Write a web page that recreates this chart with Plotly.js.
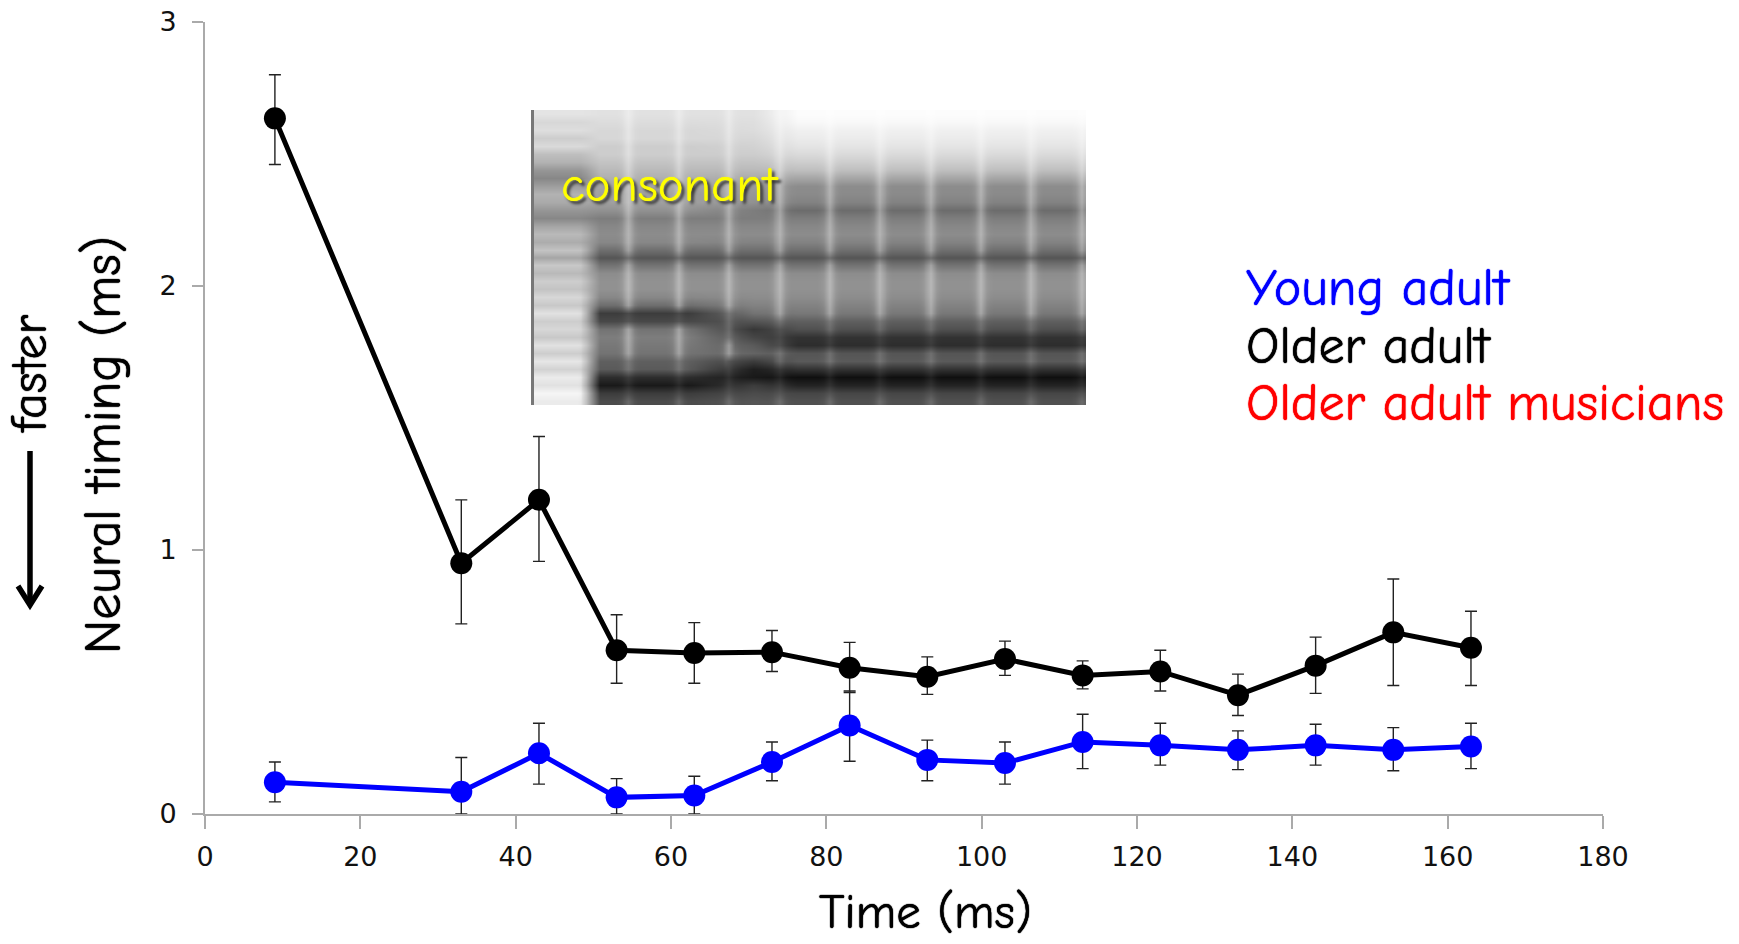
<!DOCTYPE html>
<html><head><meta charset="utf-8">
<script src="https://cdn.plot.ly/plotly-3.0.1.min.js"></script>
<style>html,body{margin:0;padding:0;background:#fff;overflow:hidden}#chart{width:1739px;height:944px}</style>
</head><body><div id="chart"></div>
<script>
// --- chart data ---
const timeMs = [9,33,43,53,63,73,83,93,103,113,123,133,143,153,163];
const olderAdult = [2.635,0.95,1.19,0.62,0.61,0.613,0.554,0.52,0.587,0.525,0.54,0.45,0.562,0.688,0.63];
const olderUpper = [2.80,1.19,1.43,0.755,0.725,0.695,0.65,0.595,0.655,0.58,0.62,0.53,0.67,0.89,0.768];
const olderLower = [2.46,0.72,0.957,0.495,0.495,0.54,0.46,0.453,0.525,0.474,0.466,0.373,0.457,0.487,0.487];
const youngAdult = [0.12,0.084,0.23,0.063,0.07,0.197,0.335,0.205,0.193,0.273,0.26,0.243,0.26,0.243,0.256];
const youngUpper = [0.197,0.214,0.344,0.134,0.143,0.273,0.466,0.28,0.273,0.378,0.344,0.315,0.34,0.327,0.344];
const youngLower = [0.046,0,0.113,0,0,0.126,0.2,0.126,0.113,0.172,0.185,0.168,0.185,0.164,0.172];
const xTicks = [0,20,40,60,80,100,120,140,160,180];
const yTicks = [0,1,2,3];
const legendLabels = ['Young adult','Older adult','Older adult musicians'];
const legendColors = ['#0000ff','#000000','#ff0000'];

// --- spectrogram inset: grey level per frequency row, top to bottom, per stimulus stage ---
const onsetRows = [228,215,222,205,218,190,178,150,135,158,178,170,150,135,165,185,172,195,165,200,185,205,195,215,200,225,205,215,200,225,205,230,210,235,225,245,235];
const earlyRows = [225,220,215,215,205,205,195,185,175,165,160,160,145,125,135,140,135,110,85,115,140,145,145,135,110,60,72,115,125,120,115,95,90,45,25,60,75];
const midRows   = [225,222,220,215,210,205,195,185,170,155,150,145,125,125,135,140,130,110,85,115,140,145,145,140,130,115,85,55,70,90,100,60,30,25,60,75,85];
const lateRows  = [252,248,240,235,228,218,205,190,165,140,138,130,108,125,135,140,130,110,85,115,140,145,145,140,130,120,95,80,50,45,85,90,50,15,35,70,80];
// stage anchors across the image (fraction of its width), and stripe strength within one pitch period
const stageStops = [0.085,0.12,0.28,0.40,0.48];
const stripeCycle = [0.7,0.42,0.14,0.04,0,0,0,0,0,0,0,0,0,0.04,0.14,0.42];
const stripeFirstColumn = 30;
const rowCount = onsetRows.length;
const columnCount = 176;

const mix = (a, b, t) => a + (b - a) * Math.min(1, Math.max(0, t));
const spectrogram = [];
for (let r = 0; r < rowCount; r++) {
  const row = [];
  for (let c = 0; c < columnCount; c++) {
    const f = c / (columnCount - 1);
    let level;
    if (f < stageStops[1]) level = mix(onsetRows[r], earlyRows[r], (f - stageStops[0]) / (stageStops[1] - stageStops[0]));
    else if (f < stageStops[2]) level = earlyRows[r];
    else if (f < stageStops[3]) level = mix(earlyRows[r], midRows[r], (f - stageStops[2]) / (stageStops[3] - stageStops[2]));
    else level = mix(midRows[r], lateRows[r], (f - stageStops[3]) / (stageStops[4] - stageStops[3]));
    const phase = ((c - stripeFirstColumn) % 16 + 16) % 16;
    const strength = f < stageStops[1] ? 0 : stripeCycle[phase] * (level < 75 ? 0.1 : level < 100 ? 0.22 : 0.5);
    row.push(level + (255 - level) * strength);
  }
  spectrogram.push(row);
}
spectrogram.reverse();

const FONT = '"Comic Sans MS","Comic Neue",Lato,"Noto Sans",sans-serif';
const TICK = 'Verdana,"DejaVu Sans",sans-serif';
const W = 1739, H = 944, L = 205, T = 22, PW = 1398, PH = 792;
const px = v => (v - L) / PW;
const py = v => 1 - (v - T) / PH;

function errTrace(name, y, up, lo, color) {
  return {
    type: 'scatter', mode: 'lines+markers', name, x: timeMs, y,
    line: {color, width: 5}, marker: {color, size: 22},
    error_y: {type: 'data', symmetric: false,
      array: up.map((v, i) => +(v - y[i]).toFixed(3)),
      arrayminus: lo.map((v, i) => +(y[i] - v).toFixed(3)),
      color: '#222', thickness: 1.4, width: 6},
    cliponaxis: false, hoverinfo: 'x+y'
  };
}

const data = [
  {type: 'heatmap', z: spectrogram, xaxis: 'x2', yaxis: 'y2', zmin: 0, zmax: 255, zsmooth: 'best',
   colorscale: [[0,'#000000'],[1,'#ffffff']], showscale: false, hoverinfo: 'skip'},
  errTrace('Older adult', olderAdult, olderUpper, olderLower, '#000000'),
  errTrace('Young adult', youngAdult, youngUpper, youngLower, '#0000ff')
];

const weight = c => `0 0 1px ${c}, 0 0 1px ${c}`;
const annotations = [
  {text: 'Time (ms)', x: px(926), y: py(912), font: {size: 49, color: '#000', family: FONT, shadow: weight('#000')}},
  {text: 'Neural timing (ms)', x: px(103), y: py(445), textangle: -90, font: {size: 52, color: '#000', family: FONT, shadow: weight('#000')}},
  {text: 'faster', x: px(30), y: py(374), textangle: -90, font: {size: 50, color: '#000', family: FONT, shadow: weight('#000')}},
  {text: 'consonant', x: px(670), y: py(185),
   font: {size: 49, color: '#ffff00', family: FONT, shadow: '0 0 1px #ffff00, 3px 3px 3px #333'}}
];
legendLabels.forEach((t, i) => annotations.push({
  text: t, x: px(1244), xanchor: 'left', y: py(288 + i * 57.5),
  font: {size: 52, color: legendColors[i], family: FONT, shadow: weight(legendColors[i])}
}));
annotations.forEach(a => { a.xref = 'paper'; a.yref = 'paper'; a.showarrow = false; a.xanchor = a.xanchor || 'center'; a.yanchor = 'middle'; });

const arrowColor = '#000';
const shapes = [
  {type: 'line', xref: 'paper', yref: 'paper', x0: px(30), x1: px(30), y0: py(451), y1: py(603), line: {color: arrowColor, width: 5.5}},
  {type: 'path', xref: 'paper', yref: 'paper',
   path: `M ${px(18)} ${py(586)} L ${px(30)} ${py(605)} L ${px(42)} ${py(586)}`,
   line: {color: arrowColor, width: 5.5}},
  {type: 'line', xref: 'paper', yref: 'paper', x0: px(532.5), x1: px(532.5), y0: py(110), y1: py(405), line: {color: '#777', width: 3}}
];

const layout = {
  width: W, height: H, showlegend: false,
  paper_bgcolor: '#fff', plot_bgcolor: '#fff',
  margin: {l: L, r: W - L - PW, t: T, b: H - T - PH, pad: 0},
  xaxis: {range: [0, 180], tickvals: xTicks, ticks: 'outside', ticklen: 13, tickwidth: 1.5, tickcolor: '#aaa',
    showline: true, linecolor: '#aaa', linewidth: 2, showgrid: false, zeroline: false, ticklabelstandoff: 5,
    tickfont: {family: TICK, size: 27, color: '#111'}},
  yaxis: {range: [0, 3], tickvals: yTicks, ticks: 'outside', ticklen: 11, tickwidth: 1.5, tickcolor: '#aaa',
    showline: true, linecolor: '#aaa', linewidth: 2, showgrid: false, zeroline: false, ticklabelstandoff: 10,
    tickfont: {family: TICK, size: 27, color: '#111'}},
  xaxis2: {domain: [px(532), px(1086)], anchor: 'y2', visible: false},
  yaxis2: {domain: [py(405), py(110)], anchor: 'x2', visible: false},
  annotations, shapes
};
Plotly.newPlot('chart', data, layout, {displayModeBar: false, responsive: false});
</script></body></html>
